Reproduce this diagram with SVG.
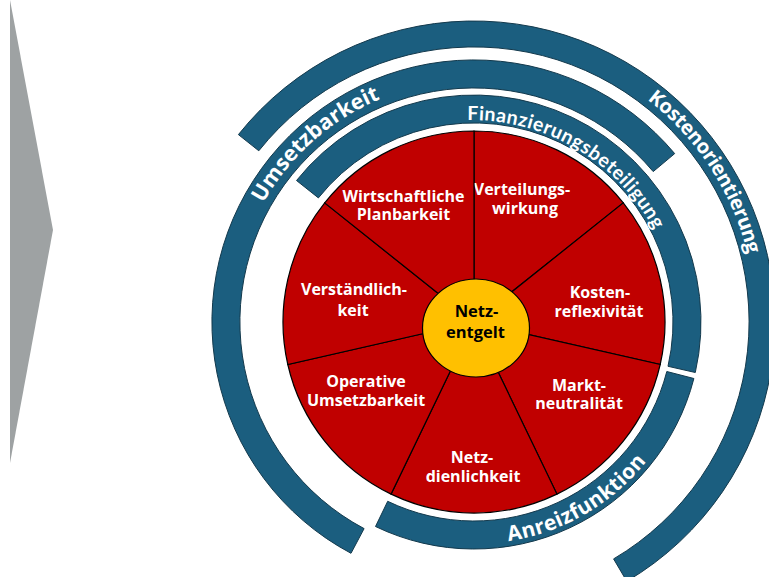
<svg xmlns="http://www.w3.org/2000/svg" width="769" height="577" viewBox="0 0 769 577">
  <style>
    .wedge { fill: #c00000; stroke: #000; stroke-width: 1.2; }
    .band { fill: #1b5e7f; stroke: #13394c; stroke-width: 1; }
    .lbl { font-family: "Open Sans", "Liberation Sans", sans-serif; font-weight: 700; font-size: 16px; fill: #fff; text-anchor: middle; }
    .core { fill: #ffc000; stroke: #000; stroke-width: 1.2; }
    .corelbl { font-family: "Open Sans", "Liberation Sans", sans-serif; font-weight: 700; font-size: 16.5px; fill: #000; text-anchor: middle; }
    .arclbl { font-family: "Open Sans", "Liberation Sans", sans-serif; font-weight: 700; fill: #fff; }
    .arclbl-narrow { font-family: Lato, "Open Sans", sans-serif; font-weight: 700; fill: #fff; }
  </style>
  <defs>
    <path id="pUmsetz" d="M 238.0 370.9 A 240 240 0 0 1 549.7 93.2"/>
    <path id="pKosten" d="M 459.3 41.4 A 280 280 0 0 1 724.4 449.6"/>
    <path id="pFinanz" d="M 342.2 165.0 A 207 207 0 0 1 675.2 361.1"/>
    <path id="pAnreiz" d="M 363.5 513.4 A 220 220 0 0 0 695 322"/>
  </defs>

  <!-- grey chevron on the left -->
  <polygon id="chevron" points="10,0 53,230 10,463" fill="#9ea2a3"/>

  <!-- outer ring bands -->
  <g id="band-kostenorientierung">
    <path class="band" d="M 238.4 134.6 A 301 301 0 1 1 626.8 581.3 L 613.6 558.9 A 275 275 0 1 0 258.8 150.8 Z"/>
    <text class="arclbl" font-size="20" textLength="188"><textPath href="#pKosten" startOffset="50%" text-anchor="middle">Kostenorientierung</textPath></text>
  </g>
  <g id="band-umsetzbarkeit">
    <path class="band" d="M 351.0 553.3 A 262 262 0 1 1 674.7 153.6 L 653.2 171.6 A 234 234 0 1 0 364.1 528.6 Z"/>
    <text class="arclbl" font-size="21.5" textLength="160"><textPath href="#pUmsetz" startOffset="50%" text-anchor="middle">Umsetzbarkeit</textPath></text>
  </g>
  <g id="band-finanzierungsbeteiligung">
    <path class="band" d="M 296.5 180.5 A 227 227 0 0 1 695.3 372.5 L 668.0 366.3 A 199 199 0 0 0 318.4 197.9 Z"/>
    <text class="arclbl-narrow" font-size="19.5" textLength="228"><textPath href="#pFinanz" startOffset="50%" text-anchor="middle">Finanzierungsbeteiligung</textPath></text>
  </g>
  <g id="band-anreizfunktion">
    <path class="band" d="M 693.9 378.5 A 227 227 0 0 1 375.5 526.5 L 387.7 501.3 A 199 199 0 0 0 666.8 371.5 Z"/>
    <text class="arclbl" font-size="21" textLength="163"><textPath href="#pAnreiz" startOffset="50%" text-anchor="middle">Anreizfunktion</textPath></text>
  </g>

  <!-- pie wedges -->
  <g id="verteilungswirkung">
    <path class="wedge" d="M 474 322 L 474 131 A 191 191 0 0 1 623.3 202.9 Z"/>
    <text class="lbl" x="522" y="195">Verteilungs-</text>
    <text class="lbl" x="525" y="214">wirkung</text>
  </g>
  <g id="kostenreflexivitaet">
    <path class="wedge" d="M 474 322 L 623.3 202.9 A 191 191 0 0 1 660.2 364.5 Z"/>
    <text class="lbl" x="600" y="297.5">Kosten-</text>
    <text class="lbl" x="599" y="316.5">reflexivität</text>
  </g>
  <g id="marktneutralitaet">
    <path class="wedge" d="M 474 322 L 660.2 364.5 A 191 191 0 0 1 556.9 494.1 Z"/>
    <text class="lbl" x="579" y="390.5">Markt-</text>
    <text class="lbl" x="579" y="409">neutralität</text>
  </g>
  <g id="netzdienlichkeit">
    <path class="wedge" d="M 474 322 L 556.9 494.1 A 191 191 0 0 1 391.1 494.1 Z"/>
    <text class="lbl" x="472" y="463">Netz-</text>
    <text class="lbl" x="473" y="481.5">dienlichkeit</text>
  </g>
  <g id="operative-umsetzbarkeit">
    <path class="wedge" d="M 474 322 L 391.1 494.1 A 191 191 0 0 1 287.8 364.5 Z"/>
    <text class="lbl" x="366" y="387">Operative</text>
    <text class="lbl" x="366" y="406">Umsetzbarkeit</text>
  </g>
  <g id="verstaendlichkeit">
    <path class="wedge" d="M 474 322 L 287.8 364.5 A 191 191 0 0 1 324.7 202.9 Z"/>
    <text class="lbl" x="354" y="295">Verständlich-</text>
    <text class="lbl" x="353" y="315.5">keit</text>
  </g>
  <g id="wirtschaftliche-planbarkeit">
    <path class="wedge" d="M 474 322 L 324.7 202.9 A 191 191 0 0 1 474 131 Z"/>
    <text class="lbl" x="403.5" y="201.5">Wirtschaftliche</text>
    <text class="lbl" x="403.5" y="220">Planbarkeit</text>
  </g>

  <!-- centre -->
  <g id="netzentgelt">
    <ellipse class="core" cx="476" cy="328" rx="53.5" ry="49"/>
    <text class="corelbl" x="476.5" y="317">Netz-</text>
    <text class="corelbl" x="475.5" y="338">entgelt</text>
  </g>
</svg>
